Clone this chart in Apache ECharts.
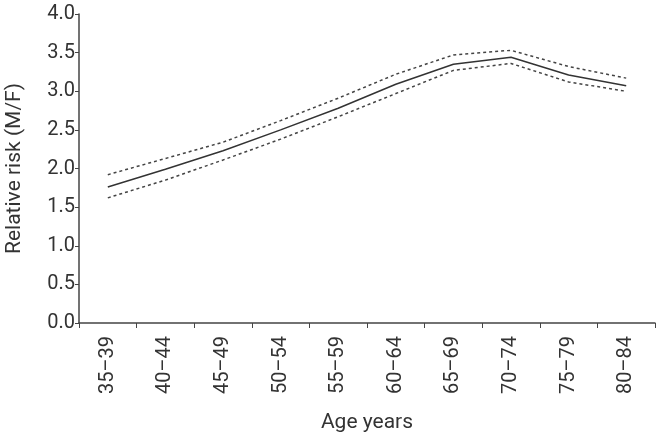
<!DOCTYPE html>
<html>
<head>
<meta charset="utf-8">
<script src="https://cdn.jsdelivr.net/npm/echarts@6/dist/echarts.min.js"></script>
<style>html,body{margin:0;padding:0;background:#fff;}#c{width:656px;height:435px;}</style>
</head>
<body>
<div id="c"></div>
<script>
const categories = ['35–39','40–44','45–49','50–54','55–59','60–64','65–69','70–74','75–79','80–84'];
const relativeRisk = [1.76, 1.99, 2.23, 2.50, 2.78, 3.09, 3.35, 3.44, 3.21, 3.07];
const upperCI = [1.92, 2.13, 2.34, 2.62, 2.91, 3.22, 3.47, 3.53, 3.32, 3.17];
const lowerCI = [1.62, 1.85, 2.11, 2.38, 2.67, 2.97, 3.27, 3.36, 3.12, 3.00];
const yTicks = ['0.0','0.5','1.0','1.5','2.0','2.5','3.0','3.5','4.0'];

const font = 'Roboto, "Noto Sans", sans-serif';
const chart = echarts.init(document.getElementById('c'));
chart.setOption({
  animation: false,
  grid: { left: 79, right: 1, top: 14, bottom: 112, outerBoundsMode: 'none', containLabel: false },
  xAxis: {
    type: 'category',
    data: categories,
    boundaryGap: true,
    name: 'Age years',
    nameLocation: 'middle',
    nameGap: 89,
    nameTextStyle: { fontFamily: font, fontSize: 21, color: '#333' },
    axisLine: { lineStyle: { color: '#444', width: 1.5 } },
    axisTick: { show: true, length: 5, lineStyle: { color: '#444' } },
    axisLabel: { rotate: 90, fontFamily: font, fontSize: 20, color: '#333', margin: 13, interval: 0 }
  },
  yAxis: {
    type: 'value',
    min: 0, max: 4, interval: 0.5,
    name: 'Relative risk (M/F)',
    nameLocation: 'middle',
    nameGap: 54,
    nameTextStyle: { fontFamily: font, fontSize: 21, color: '#333' },
    axisLine: { show: true, lineStyle: { color: '#444', width: 1.5 } },
    axisTick: { show: true, length: 4, lineStyle: { color: '#444' } },
    splitLine: { show: false },
    axisLabel: {
      fontFamily: font, fontSize: 20, color: '#333', margin: 4,
      formatter: function (v) { return yTicks[Math.round(v * 2)]; }
    }
  },
  series: [
    { type: 'line', data: relativeRisk, symbol: 'none', lineStyle: { color: '#333', width: 1.5 } },
    { type: 'line', data: upperCI, symbol: 'none', lineStyle: { color: '#444', width: 1.5, type: [3, 3] } },
    { type: 'line', data: lowerCI, symbol: 'none', lineStyle: { color: '#444', width: 1.5, type: [3, 3] } }
  ]
});
</script>
</body>
</html>
